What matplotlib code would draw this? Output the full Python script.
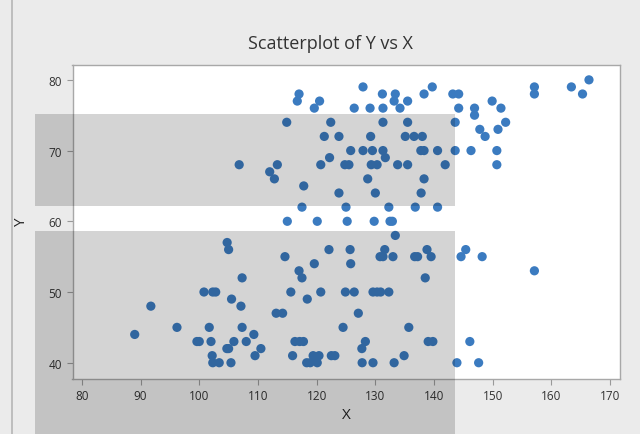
import numpy as np
import matplotlib
matplotlib.use("Agg")
import matplotlib.pyplot as plt
from matplotlib.patches import Rectangle

x_low = [104.75, 105.0, 107.3, 100.8, 102.3, 102.8, 105.5, 107.1, 91.75, 96.2,
         101.7, 107.3, 89.0, 109.3, 99.6, 100.0, 102.0, 105.9, 108.0, 104.7,
         105.0, 110.5, 102.2, 109.5, 102.3, 103.4, 105.4, 133.4, 122.1, 125.7,
         131.6, 114.6, 130.8, 131.3, 133.0, 119.6, 125.8, 117.0, 117.5, 115.6,
         120.7, 124.9, 126.4, 129.6, 130.3, 130.9, 132.3, 118.4, 113.1, 114.2,
         127.1, 124.5, 135.7, 116.3, 117.1, 117.75, 128.3, 127.7, 115.9, 119.4,
         120.4, 122.5, 123.1, 134.9, 118.3, 118.9, 120.1, 127.75, 129.6, 133.2,
         138.8, 136.7, 137.2, 139.5, 138.5, 145.4, 144.6, 148.2, 157.1, 139.0,
         139.8, 146.1, 143.9, 147.6]
y_low = [57, 56, 52, 50, 50, 50, 49, 48, 48, 45,
         45, 45, 44, 44, 43, 43, 43, 43, 43, 42,
         42, 42, 41, 41, 40, 40, 40, 58, 56, 56,
         56, 55, 55, 55, 55, 54, 54, 53, 52, 50,
         50, 50, 50, 50, 50, 50, 50, 49, 47, 47,
         47, 45, 45, 43, 43, 43, 43, 42, 41, 41,
         41, 41, 41, 41, 40, 40, 40, 40, 40, 40,
         56, 55, 55, 55, 52, 56, 55, 55, 53, 43,
         43, 43, 40, 40]

x_high = [115.0, 120.1, 125.2, 129.8, 132.5, 132.9,
          117.5, 125.0, 132.3, 136.8, 140.6,
          123.8, 130.0, 137.8, 117.8,
          112.8, 128.7, 138.3, 112.0,
          106.8, 113.3, 120.7, 124.8, 125.5, 129.3, 130.3, 133.8, 135.5, 141.9, 150.7,
          122.2, 131.7,
          125.8, 127.9, 129.5, 131.3, 137.75, 138.3, 140.6, 143.6, 146.3, 150.7,
          121.3, 123.8, 129.2, 135.1, 136.6, 138.0, 148.7,
          147.8, 150.9,
          114.9, 122.4, 131.3, 135.5, 143.6, 152.2,
          146.9,
          119.6, 126.4, 129.1, 131.3, 134.2, 144.2, 146.9, 151.4,
          116.7, 120.5, 133.2, 135.5, 149.9,
          117.0, 131.2, 133.4, 138.3, 143.2, 144.2, 157.1, 165.3,
          127.9, 139.7, 157.1, 163.4,
          166.4]
y_high = [60, 60, 60, 60, 60, 60,
          62, 62, 62, 62, 62,
          64, 64, 64, 65,
          66, 66, 66, 67,
          68, 68, 68, 68, 68, 68, 68, 68, 68, 68, 68,
          69, 69,
          70, 70, 70, 70, 70, 70, 70, 70, 70, 70,
          72, 72, 72, 72, 72, 72, 72,
          73, 73,
          74, 74, 74, 74, 74, 74,
          75,
          76, 76, 76, 76, 76, 76, 76, 76,
          77, 77, 77, 77, 77,
          78, 78, 78, 78, 78, 78, 78, 78,
          79, 79, 79, 79,
          80]

x_ticks = [80, 90, 100, 110, 120, 130, 140, 150, 160, 170]
y_ticks = [40, 50, 60, 70, 80]

xs = np.array(x_low + x_high)
ys = np.array(y_low + y_high)

plt.rcParams['font.family'] = ['Open Sans', 'DejaVu Sans']

fig = plt.figure(figsize=(6.4, 4.35), dpi=100, facecolor='#ebebeb')
ax = fig.add_axes([72.5/640, 1-380/435, 547/640, 314/435])
ax.set_facecolor('white')

ax.scatter(xs, ys, s=44, color='#3b7bc0', edgecolors='none', zorder=3)

ax.set_xlim(78.4, 171.6)
ax.set_ylim(37.7, 82.1)
ax.set_xticks(x_ticks)
ax.set_yticks(y_ticks)
ax.tick_params(axis='both', labelsize=8.5, colors='#333333', length=4, width=0.8)
ax.tick_params(axis='both', color='#999999')
for sp in ax.spines.values():
    sp.set_color('#a8a8a8')
    sp.set_linewidth(1.0)

ax.set_xlabel('X', fontsize=11, color='#222222', labelpad=3)
ax.set_ylabel('Y', fontsize=11, color='#222222', labelpad=14)
fig.text(0.516, 1-44/435, 'Scatterplot of Y vs X', ha='center', va='center',
         fontsize=13, color='#333333', fontweight='medium')

# thin window edge on the left
fig.add_artist(plt.Line2D([12/640, 12/640], [0, 1], transform=fig.transFigure,
                          color='#b5b5b5', lw=1.2))

# translucent grey bands on top of the image
for (x0, y0, x1, y1) in [(35, 115, 455, 207), (35, 232, 455, 435)]:
    fig.patches.append(Rectangle((x0/640, 1-y1/435), (x1-x0)/640, (y1-y0)/435,
                                 transform=fig.transFigure, facecolor='black',
                                 alpha=0.17, edgecolor='none', zorder=10))

fig.savefig('out.png', dpi=100, facecolor=fig.get_facecolor())
